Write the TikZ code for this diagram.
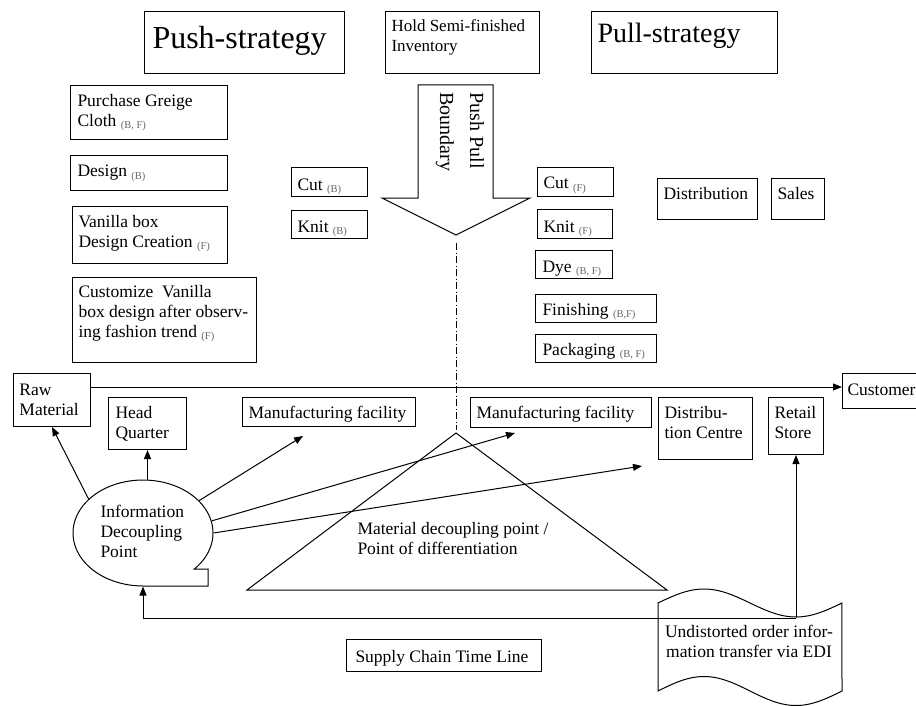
\documentclass[tikz,border=0pt]{standalone}
\usepackage{fontspec}
\setmainfont{Liberation Serif}
\usetikzlibrary{arrows.meta,shapes.geometric}
\newcommand\sbs[1]{{\fontsize{10.5}{10.5}\selectfont\color{black!60}\raisebox{-2pt}{#1}}}
\begin{document}
\begin{tikzpicture}[x=1pt,y=-1pt,line width=1pt,
  font=\fontsize{17.5}{20}\selectfont,
  box/.style={draw, rectangle, anchor=north west, inner sep=0pt},
  txt/.style={anchor=base west, inner sep=0pt, align=left},
  arr/.style={-{Triangle[length=9pt,width=7pt]}}]
\useasboundingbox (0,0) rectangle (916,706);
% top boxes
\node[box, minimum width=200pt, minimum height=62pt] (push) at (144,11) {};
\node[box, minimum width=154pt, minimum height=62pt] (hold) at (385,11) {};
\node[box, minimum width=186pt, minimum height=62pt] (pull) at (591,11) {};
\node[txt, font=\fontsize{32}{36}\selectfont] (pusht) at (152,49) {Push-strategy};
\node[txt, font=\fontsize{17}{20}\selectfont] (holdt) at (391,52) {Hold Semi-finished\\Inventory};
\node[txt, font=\fontsize{28}{32}\selectfont] (pullt) at (597,43) {Pull-strategy};
% push side boxes
\node[box, minimum width=157pt, minimum height=54pt] (pgc) at (70,85) {};
\node[box, minimum width=157pt, minimum height=35pt] (design) at (70,155) {};
\node[box, minimum width=155pt, minimum height=57pt] (vanilla) at (72,206) {};
\node[box, minimum width=184pt, minimum height=85pt] (custom) at (72,277) {};
\node[txt] (pgct) at (77,127) {Purchase Greige\\Cloth \sbs{(B, F)}};
\node[txt] (designt) at (77,177) {Design \sbs{(B)}};
\node[txt] (vanillat) at (78,247) {Vanilla box\\Design Creation \sbs{(F)}};
\node[txt] (customt) at (78,337) {Customize\ \ Vanilla\\box design after observ-\\ing fashion trend \sbs{(F)}};
\node[box, minimum width=76pt, minimum height=29pt] (cutb) at (291,167) {};
\node[box, minimum width=76pt, minimum height=28pt] (knitb) at (291,210) {};
\node[txt] (cutbt) at (297,190) {Cut \sbs{(B)}};
\node[txt] (knitbt) at (297,232) {Knit \sbs{(B)}};
% push pull boundary arrow
\coordinate (tip) at (456,235);
\draw (418,85) -- (493,85) -- (493,198) -- (530,198) -- (tip) -- (382,198) -- (418,198) -- cycle;
\node[txt, rotate=-90, font=\fontsize{20}{30}\selectfont] (ppb) at (440,92) {Push Pull\\Boundary};
\coordinate (dtop) at (456,243);
\coordinate (dbot) at (456,430);
\draw[line width=0.8pt, dash pattern=on 7pt off 2.5pt on 1pt off 2.5pt] (dtop) -- (dbot);
% pull side boxes
\node[box, minimum width=76pt, minimum height=29pt] (cutf) at (537,167) {};
\node[box, minimum width=75pt, minimum height=29pt] (knitf) at (537,209) {};
\node[box, minimum width=77pt, minimum height=28pt] (dye) at (535,250) {};
\node[box, minimum width=121pt, minimum height=28pt] (fin) at (535,294) {};
\node[box, minimum width=121pt, minimum height=28pt] (pack) at (535,334) {};
\node[txt] (cutft) at (543,189) {Cut \sbs{(F)}};
\node[txt] (knitft) at (543,232) {Knit \sbs{(F)}};
\node[txt] (dyet) at (542,272) {Dye \sbs{(B, F)}};
\node[txt] (fint) at (542,315) {Finishing \sbs{(B,F)}};
\node[txt] (packt) at (542,355) {Packaging \sbs{(B, F)}};
\node[box, minimum width=100pt, minimum height=41pt] (dist) at (657,178) {};
\node[box, minimum width=53pt, minimum height=41pt] (sales) at (771,178) {};
\node[txt] (distt) at (663,200) {Distribution};
\node[txt] (salest) at (777,200) {Sales};
% supply chain row
\node[box, minimum width=77pt, minimum height=53pt] (raw) at (13,373) {};
\node[box, minimum width=78pt, minimum height=52pt] (hq) at (108,397) {};
\node[box, minimum width=173pt, minimum height=29pt] (mfl) at (242,397) {};
\node[box, minimum width=181pt, minimum height=30pt] (mfr) at (470,397) {};
\node[box, minimum width=94pt, minimum height=62pt] (dc) at (658,397) {};
\node[box, minimum width=55pt, minimum height=57pt] (rs) at (768,397) {};
\node[box, minimum width=100pt, minimum height=35pt] (cust) at (842,373) {};
\node[txt] (rawt) at (19,415) {Raw\\Material};
\node[txt] (hqt) at (115,438) {Head\\Quarter};
\node[txt] (mflt) at (248,418) {Manufacturing facility};
\node[txt] (mfrt) at (476,418) {Manufacturing facility};
\node[txt] (dct) at (664,438) {Distribu-\\tion Centre};
\node[txt] (rst) at (774,438) {Retail\\Store};
\node[txt] (custt) at (847,395) {Customer};
\coordinate (tl) at (0,387);
\draw[arr] (raw.east |- tl) -- (cust.west |- tl);
% triangle
\coordinate (ta) at (456,433);
\coordinate (tbl) at (247,590);
\coordinate (tbr) at (667,590);
\draw (ta) -- (tbr) -- (tbl) -- cycle;
\node[txt] (mdpt) at (357,554) {Material decoupling point /\\Point of differentiation};
% information decoupling point
\node[ellipse, minimum width=140pt, minimum height=106pt, inner sep=0pt] (idp) at (143,533) {};
\draw plot[domain=90:403, samples=90] ({143+70*cos(\x)},{533+53*sin(\x)}) -- (208,569) -- (208,586) -- cycle;
\node[txt] (idpt) at (100,557) {Information\\Decoupling\\Point};
\coordinate (a3) at (303,436);
\coordinate (a4) at (515,433);
\coordinate (a5) at (642,466);
\draw[arr] (idp.148.6) -- (raw.south);
\draw[arr] (hq.south |- idp.north) -- (hq.south);
\draw[arr] (idp.30.5) -- (a3);
\draw[arr] (idp.10.7) -- (a4);
\draw[arr] (idp.east) -- (a5);
% EDI document
\draw plot[domain=0:1, samples=50] ({658+184*\x},{603-14*sin(360*\x)}) -- plot[domain=0:1, samples=50] ({842-184*\x},{691-14.5*sin(360*(1-\x))}) -- cycle;
\node[anchor=base, inner sep=0pt, align=center] (edi) at (749,657) {Undistorted order infor-\\mation transfer via EDI};
\coordinate (fb) at (796,618);
\draw[arr] (fb) -- (rs.south -| fb);
\draw[arr] (fb) -- (idp.south |- fb) -- (idp.south);
% time line label
\node[box, minimum width=195pt, minimum height=32pt] (sctl) at (346,639) {};
\node[txt] (sctlt) at (355,662) {Supply Chain Time Line};
\end{tikzpicture}
\end{document}
